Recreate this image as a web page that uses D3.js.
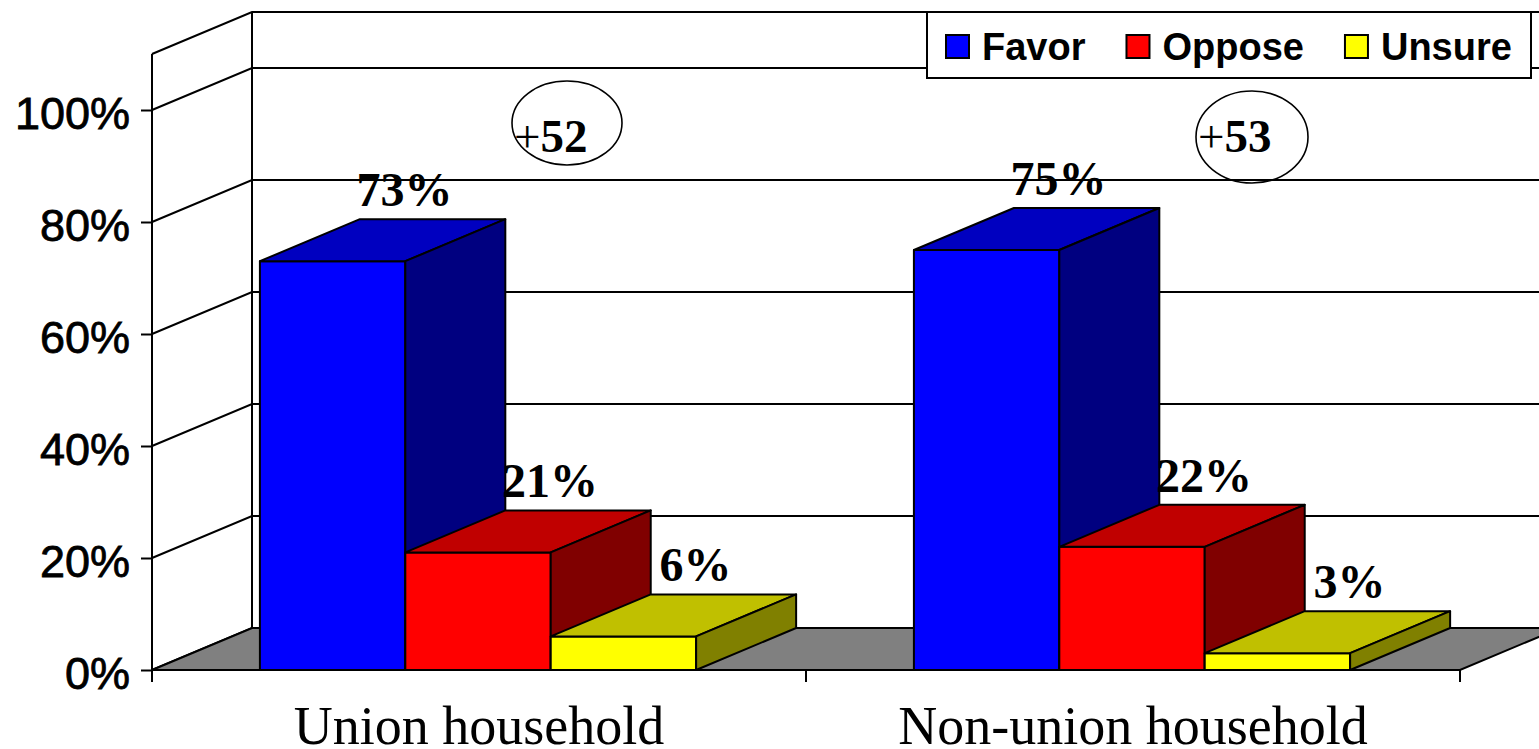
<!DOCTYPE html>
<html lang="en">
<head>
    <meta charset="utf-8">
    <title>Union vs non-union households</title>
    <style>
        html, body { margin: 0; padding: 0; background: #fff; }
        svg { display: block; }
    </style>
</head>
<body>
    <div id="container"></div>

    <script src="https://cdn.jsdelivr.net/npm/d3@7"></script>
    <script>
        // Chart data
        const categories = ["Union household", "Non-union household"];
        const series = ["Favor", "Oppose", "Unsure"];
        const favor = [73, 75];
        const oppose = [21, 22];
        const unsure = [6, 3];
        const margins = ["52", "53"];
        const yTicks = [0, 20, 40, 60, 80, 100];

        const values = [favor, oppose, unsure];

        // Colours: front, top, side
        const colors = {
            Favor:  ["#0000ff", "#0000c0", "#000080"],
            Oppose: ["#ff0000", "#c00000", "#800000"],
            Unsure: ["#ffff00", "#c0c000", "#808000"]
        };

        const width = 1539;
        const height = 749;

        // 3D depth offset
        const dx = 100;
        const dy = -42;

        const svg = d3.select("#container").append("svg")
            .attr("width", width)
            .attr("height", height);

        const y = d3.scaleLinear()
            .domain([0, 110])
            .range([670, 54]);

        const x0 = d3.scaleBand()
            .domain(categories)
            .range([152, 1460])
            .padding(0);

        const bw = x0.bandwidth();
        const x1 = d3.scaleBand()
            .domain(series)
            .range([bw * 0.165, bw * 0.832])
            .padding(0);

        const line = d3.line();

        // Walls and gridlines
        const walls = svg.append("g").attr("fill", "none").attr("stroke", "#000").attr("stroke-width", 2);
        yTicks.concat([110]).forEach(t => {
            const yy = y(t);
            walls.append("path")
                .attr("d", line([[152, yy], [152 + dx, yy + dy], [width + 20, yy + dy]]));
        });
        walls.append("line")
            .attr("x1", 152 + dx).attr("x2", 152 + dx)
            .attr("y1", y(110) + dy).attr("y2", y(0) + dy);

        // Floor
        svg.append("path")
            .attr("d", line([[152, y(0)], [1460, y(0)], [1460 + dx, y(0) + dy], [152 + dx, y(0) + dy]]) + "Z")
            .attr("fill", "#808080")
            .attr("stroke", "#000")
            .attr("stroke-width", 2);

        // Y axis
        const yAxis = svg.append("g")
            .attr("transform", "translate(152,0)")
            .call(d3.axisLeft(y).tickValues(yTicks).tickSize(11).tickFormat(d => d + "%"));
        yAxis.select(".domain").attr("stroke", "#000").attr("stroke-width", 2)
            .attr("d", `M0,${y(110)}V${y(0)}`);
        yAxis.selectAll(".tick line").attr("stroke", "#000").attr("stroke-width", 2);
        yAxis.selectAll(".tick text")
            .attr("x", -22)
            .attr("dy", "0.42em")
            .attr("fill", "#000")
            .attr("stroke", "#000")
            .attr("stroke-width", 0.8)
            .style("font-family", "'Liberation Sans', Arial, sans-serif")
            .style("font-size", "45px");

        // X axis
        const xAxis = svg.append("g")
            .attr("transform", `translate(0,${y(0)})`);
        xAxis.append("line")
            .attr("x1", 152).attr("x2", 1460)
            .attr("stroke", "#000").attr("stroke-width", 2);
        [152, 152 + bw, 1460].forEach(px => {
            xAxis.append("line")
                .attr("x1", px).attr("x2", px)
                .attr("y1", 0).attr("y2", 12)
                .attr("stroke", "#000").attr("stroke-width", 2);
        });
        xAxis.selectAll("text.cat")
            .data(categories)
            .enter().append("text")
            .attr("class", "cat")
            .attr("x", d => x0(d) + bw / 2)
            .attr("y", 74)
            .attr("text-anchor", "middle")
            .style("font-family", "'Liberation Serif', 'Times New Roman', serif")
            .style("font-size", "54px")
            .text(d => d);

        // Bars (left to right so nearer faces overlap)
        const bars = svg.append("g").attr("stroke", "#000").attr("stroke-width", 2).attr("stroke-linejoin", "round");
        categories.forEach((c, ci) => {
            series.forEach((s, si) => {
                const v = values[si][ci];
                const xl = x0(c) + x1(s);
                const xr = xl + x1.bandwidth();
                const yt = y(v);
                const yb = y(0);
                const col = colors[s];
                // front
                bars.append("path")
                    .attr("d", line([[xl, yt], [xr, yt], [xr, yb], [xl, yb]]) + "Z")
                    .attr("fill", col[0]);
                // top
                bars.append("path")
                    .attr("d", line([[xl, yt], [xl + dx, yt + dy], [xr + dx, yt + dy], [xr, yt]]) + "Z")
                    .attr("fill", col[1]);
                // side
                bars.append("path")
                    .attr("d", line([[xr, yt], [xr + dx, yt + dy], [xr + dx, yb + dy], [xr, yb]]) + "Z")
                    .attr("fill", col[2]);
                // value label
                svg.append("text")
                    .attr("x", (xl + xr) / 2 + dx / 2 + 22)
                    .attr("y", yt + dy - 13)
                    .attr("text-anchor", "middle")
                    .style("font-family", "'Liberation Serif', 'Times New Roman', serif")
                    .style("font-weight", "bold")
                    .style("font-size", "48px")
                    .text(v + "%");
            });
        });

        // Margin call-outs (ellipse annotations)
        const noteAt = [[567, 123, 55, 42], [1252, 137, 56, 46]];
        margins.forEach((m, i) => {
            const [cx, cy, rx, ry] = noteAt[i];
            svg.append("ellipse")
                .attr("cx", cx).attr("cy", cy)
                .attr("rx", rx).attr("ry", ry)
                .attr("fill", "none")
                .attr("stroke", "#000")
                .attr("stroke-width", 1.6);
            const t = svg.append("text")
                .attr("x", cx - rx + 2)
                .attr("y", 152)
                .style("font-family", "'Liberation Serif', 'Times New Roman', serif")
                .style("font-size", "47px");
            t.append("tspan").text("+");
            t.append("tspan").style("font-weight", "bold").text(m);
        });

        // Legend
        const legend = svg.append("g");
        legend.append("rect")
            .attr("x", 927).attr("y", 12)
            .attr("width", 604).attr("height", 66)
            .attr("fill", "#fff")
            .attr("stroke", "#000")
            .attr("stroke-width", 2);
        let lx = 946;
        series.forEach(s => {
            legend.append("rect")
                .attr("x", lx).attr("y", 35)
                .attr("width", 23).attr("height", 23)
                .attr("fill", colors[s][0])
                .attr("stroke", "#000")
                .attr("stroke-width", 2);
            const txt = legend.append("text")
                .attr("x", lx + 36)
                .attr("y", 60)
                .style("font-family", "'Liberation Sans', Arial, sans-serif")
                .style("font-weight", "bold")
                .style("font-size", "38px")
                .text(s);
            lx = lx + 36 + txt.node().getComputedTextLength() + 41;
        });
    </script>
</body>
</html>
